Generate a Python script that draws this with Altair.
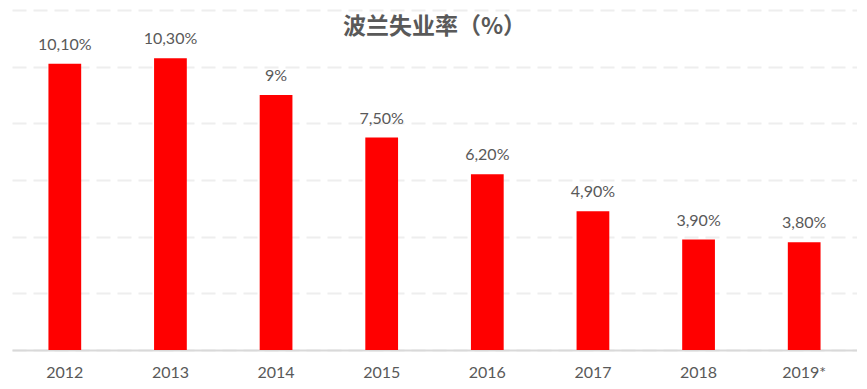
import altair as alt
import pandas as pd

years = ["2012", "2013", "2014", "2015", "2016", "2017", "2018", "2019*"]
rates = [10.1, 10.3, 9.0, 7.5, 6.2, 4.9, 3.9, 3.8]
labels = ["10,10%", "10,30%", "9%", "7,50%", "6,20%", "4,90%", "3,90%", "3,80%"]

df = pd.DataFrame({"year": years, "rate": rates, "label": labels})

FONT = "Lato"
GREY = "#595959"

base = alt.Chart(df).encode(
    x=alt.X("year:N", sort=years, title=None,
            scale=alt.Scale(paddingInner=0.69, paddingOuter=0.345),
            axis=alt.Axis(labelAngle=0, labelFont=FONT, labelFontSize=16,
                          labelColor=GREY, ticks=False, domainColor="#d9d9d9",
                          domainWidth=2, labelPadding=14, grid=False)),
    y=alt.Y("rate:Q", title=None,
            scale=alt.Scale(domain=[0, 12], nice=False),
            axis=alt.Axis(values=[0, 2, 4, 6, 8, 10, 12], labels=False, ticks=False,
                          domain=False, grid=True, gridColor="#eeeeee",
                          gridWidth=2, gridDash=[14, 7])),
)

bars = base.mark_bar(color="#ff0000")
text = base.mark_text(dy=-19, font=FONT, fontSize=16, color=GREY).encode(text="label:N")

chart = (bars + text).properties(
    width=845, height=340,
    autosize=alt.AutoSizeParams(type="none"),
    padding={"left": 4, "top": 2, "right": 0, "bottom": 40},
    title=alt.TitleParams("波兰失业率（%）", font="Noto Sans CJK SC", fontSize=23,
                          fontWeight="bold", color=GREY, anchor="middle",
                          baseline="middle", offset=0, dy=40),
).configure_view(stroke=None)

chart.save("out.html", embed_options={"renderer": "svg", "actions": False})
